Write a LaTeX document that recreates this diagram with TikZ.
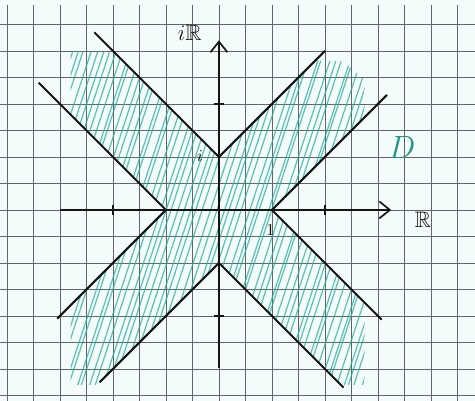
\documentclass[tikz,border=0pt]{standalone}
\usepackage{amssymb}
\usetikzlibrary{arrows.meta,positioning,calc}
\definecolor{paper}{RGB}{244,251,251}
\definecolor{gridink}{RGB}{70,75,80}
\definecolor{ink}{RGB}{20,20,20}
\definecolor{hatch}{RGB}{40,175,150}
\tikzset{
  sheet/.style={fill=paper,draw=none},
  squares/.style={draw=gridink!85,line width=0.4pt},
  hatching/.style={draw=hatch,line width=0.65pt,opacity=0.75},
  branch/.style={draw=ink,line width=1.1pt},
  axisline/.style={draw=ink,line width=0.9pt,-{Straight Barb[length=2mm,width=3.2mm]}},
  tickmark/.style={draw=ink,line width=1pt},
  lbl/.style={font=\large,text=ink},
}
\begin{document}
\begin{tikzpicture}[x=1cm,y=1cm]
  \useasboundingbox (-4.13,-3.60) rectangle (4.83,3.96);
  \fill[sheet] (-4.13,-3.60) rectangle (4.83,3.96);
  \draw[squares] (-4.13,-3.60) grid[step=0.5] (4.83,3.87);
  % shaded domain
  \pgfmathsetseed{7}
  \begin{scope}
    \clip (0,1) -- (3,4) -- (4,3) -- (1,0) -- (4,-3) -- (3,-4) -- (0,-1)
          -- (-3,-4) -- (-4,-3) -- (-1,0) -- (-4,3) -- (-3,4) -- cycle;
    \clip (-2.8,-3.3) -- (2.75,-3.3) -- (2.75,2.45) -- (2.35,2.8) -- (-2.8,3.0) -- cycle;
    \foreach \s in {-6.0,-5.88,...,4.2} {
      \pgfmathsetmacro\jit{0.04*rand}
      \draw[hatching] (\s+\jit,-3.5) -- ++(2.3,7);
    }
  \end{scope}
  % vertices and arm ends
  \coordinate (top) at (0,1);
  \coordinate (rgt) at (1,0);
  \coordinate (bot) at (0,-1);
  \coordinate (lft) at (-1,0);
  \coordinate (topL) at (-2.35,3.35);
  \coordinate (topR) at (2,3);
  \coordinate (rgtU) at (3.17,2.17);
  \coordinate (rgtD) at (3.07,-2.07);
  \coordinate (botL) at (-2.25,-3.25);
  \coordinate (botR) at (2.35,-3.35);
  \coordinate (lftU) at (-3.4,2.4);
  \coordinate (lftD) at (-3.05,-2.05);
  % axes
  \coordinate (xs) at (-3,0);
  \coordinate (xe) at (3.25,0);
  \coordinate (ys) at (0,-2.98);
  \coordinate (ye) at (0,3.2);
  \draw[axisline] (xs) -- (xe);
  \draw[axisline] (ys) -- (ye);
  \foreach \t in {-2,2} \draw[tickmark] (\t,-0.09) -- (\t,0.09);
  \foreach \t in {-2,2} \draw[tickmark] (-0.1,\t) -- (0.1,\t);
  % boundary branches
  \draw[branch] (topL) -- (top) -- (topR);
  \draw[branch] (rgtU) -- (rgt) -- (rgtD);
  \draw[branch] (botL) -- (bot) -- (botR);
  \draw[branch] (lftU) -- (lft) -- (lftD);
  % labels
  \node[lbl] (imax) at (-0.55,3.34) {$i\mathbb{R}$};
  \node[lbl] (reax) at (3.85,-0.19) {$\mathbb{R}$};
  \node[lbl,font=\LARGE,text=hatch!85!black] (dom) at (3.45,1.17) {$D$};
  \node[lbl,font=\small] (ilab) at (-0.36,1.02) {$i$};
  \node[lbl,font=\small] (onelab) at (0.97,-0.38) {$1$};
\end{tikzpicture}
\end{document}
